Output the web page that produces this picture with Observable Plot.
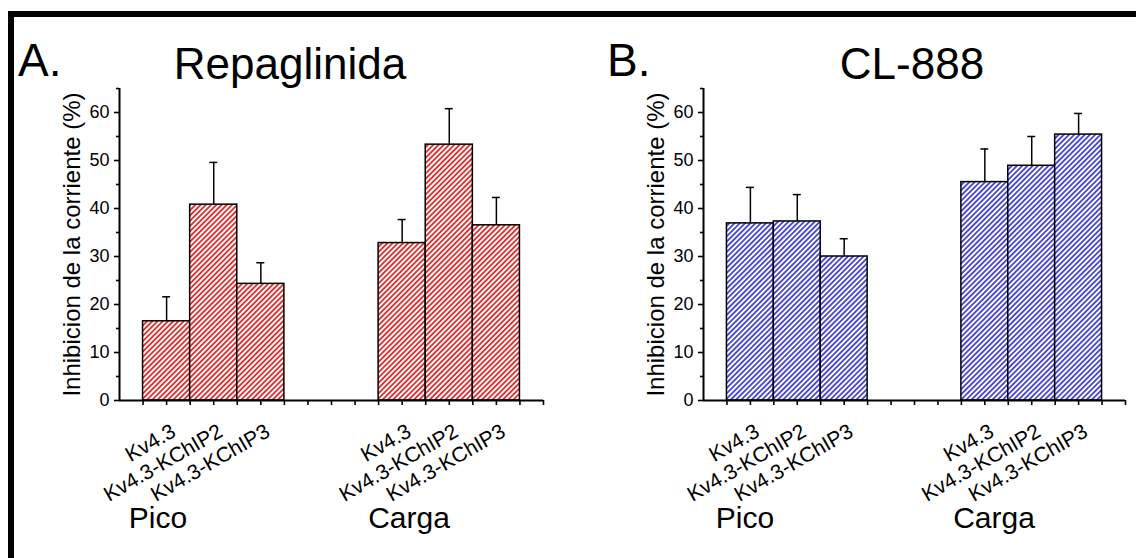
<!DOCTYPE html>
<html><head><meta charset="utf-8">
<script src="https://cdn.jsdelivr.net/npm/d3@7"></script>
<script src="https://cdn.jsdelivr.net/npm/@observablehq/plot@0.6"></script>
<style>
body{margin:0;background:#fff;}
#fig{position:relative;width:1136px;height:558px;overflow:hidden;background:#fff;font-family:"Liberation Sans",Arial,sans-serif;color:#000;}
.panel{position:absolute;top:0;}
.frameL{position:absolute;left:8px;top:11px;width:6px;height:600px;background:#000;z-index:5;}
.frameT{position:absolute;left:8px;top:11px;width:1200px;height:6px;background:#000;z-index:5;}
.lbl{position:absolute;line-height:1;white-space:nowrap;z-index:4;}
</style></head><body><div id="fig"></div>
<script>
// ---- data ----
const groups = ["Pico", "Carga"];
const constructs = ["Kv4.3", "Kv4.3-KChIP2", "Kv4.3-KChIP3"];
// order: Pico (Kv4.3, KChIP2, KChIP3), Carga (Kv4.3, KChIP2, KChIP3)
const repaglinidaMean = [16.5, 40.8, 24.3, 32.8, 53.3, 36.5];
const repaglinidaSem  = [5.1, 8.8, 4.4, 4.9, 7.5, 5.8];
const cl888Mean = [36.9, 37.3, 30.0, 45.5, 48.9, 55.4];
const cl888Sem  = [7.5, 5.6, 3.7, 6.9, 6.1, 4.4];
const yTicks = [0, 10, 20, 30, 40, 50, 60];
const yMinorTicks = [5, 15, 25, 35, 45, 55, 65];
const yTitle = "Inhibicion de la corriente (%)";
const panelLetters = ["A.", "B."];
const panelTitles = ["Repaglinida", "CL-888"];

const FONT = "Liberation Sans, Arial, sans-serif";
const fig = document.getElementById("fig");

function buildRows(means, sems) {
  const rows = [];
  groups.forEach((g, gi) => constructs.forEach((c, ci) => {
    const k = gi * constructs.length + ci;
    const x1 = gi * 10 + 1 + 2 * ci;
    rows.push({group: g, construct: c, mean: means[k], upper: means[k] + sems[k], x1, x2: x1 + 2, mid: x1 + 1});
  }));
  return rows;
}

function makePanel({means, sems, color, id, left, marginLeft, marginRight, lineW}) {
  const rows = buildRows(means, sems);
  const cap = 0.17;
  const svg = Plot.plot({
    width: 568, height: 558,
    marginLeft, marginRight, marginTop: 88, marginBottom: 158,
    x: {domain: [0, 18], axis: null},
    y: {domain: [0, 65], axis: null, label: null},
    style: {fontFamily: FONT, fontSize: "18px", color: "#000", background: "transparent", overflow: "visible"},
    marks: [
      Plot.rectY(rows, {x1: "x1", x2: "x2", y1: 0, y2: "mean", fill: `url(#${id})`, stroke: "#000", strokeWidth: 1.5}),
      Plot.ruleX(rows, {x: "mid", y1: "mean", y2: "upper", stroke: "#000", strokeWidth: 1.5}),
      Plot.ruleY(rows, {y: "upper", x1: d => d.mid - cap, x2: d => d.mid + cap, stroke: "#000", strokeWidth: 1.5}),
      Plot.axisY({ticks: yTicks, tickSize: 5, tickPadding: 5, fontSize: 18, strokeWidth: 1.6, label: null}),
      Plot.axisY({ticks: yMinorTicks, tickSize: 3, tickFormat: () => "", strokeWidth: 1.6, label: null}),
      Plot.axisX({ticks: d3.range(1, 19), tickSize: 5, tickFormat: () => "", strokeWidth: 1.6, label: null}),
      Plot.ruleX([0], {stroke: "#000", strokeWidth: 2}),
      Plot.ruleY([0], {stroke: "#000", strokeWidth: 2}),
      Plot.text(rows, {x: "mid", y: 0, text: "construct", rotate: -30, textAnchor: "end", lineAnchor: "top", dx: 3, dy: 22, fontSize: 21, fill: "#000"}),
      Plot.text([yTitle], {frameAnchor: "left", textAnchor: "middle", rotate: -90, dx: -47, fontSize: 24, fill: "#000"})
    ]
  });
  const s = d3.select(svg);
  const w = 3.7;
  const p = s.insert("defs", ":first-child").append("pattern")
    .attr("id", id).attr("patternUnits", "userSpaceOnUse")
    .attr("width", w).attr("height", w).attr("patternTransform", "rotate(45)");
  p.append("rect").attr("width", w).attr("height", w).attr("fill", "#fff");
  p.append("line").attr("x1", w / 2).attr("x2", w / 2).attr("y1", -1).attr("y2", w + 1)
    .attr("stroke", color).attr("stroke-width", lineW);
  svg.classList.add("panel");
  svg.style.left = left + "px";
  fig.appendChild(svg);
}

makePanel({means: repaglinidaMean, sems: repaglinidaSem, color: "#dc1f1f", id: "hatchA", left: 0, marginLeft: 119, marginRight: 25, lineW: 1.7});
makePanel({means: cl888Mean, sems: cl888Sem, color: "#1f1fc8", id: "hatchB", left: 568, marginLeft: 135, marginRight: 11, lineW: 1.5});

function label(text, x, baseline, size, center) {
  const d = document.createElement("div");
  d.className = "lbl";
  d.textContent = text;
  d.style.fontSize = size + "px";
  d.style.top = (baseline - 0.8465 * size) + "px";
  d.style.left = x + "px";
  if (center) d.style.transform = "translateX(-50%)";
  fig.appendChild(d);
}
label(panelLetters[0], 18, 76, 46, false);
label(panelTitles[0], 290, 79, 44, true);
label(panelLetters[1], 607, 76, 46, false);
label(panelTitles[1], 912, 79, 44, true);
label(groups[0], 158, 528, 30, true);
label(groups[1], 409, 528, 30, true);
label(groups[0], 745, 528, 30, true);
label(groups[1], 994, 528, 30, true);

const fl = document.createElement("div"); fl.className = "frameL"; fig.appendChild(fl);
const ft = document.createElement("div"); ft.className = "frameT"; fig.appendChild(ft);
</script>
</body></html>
